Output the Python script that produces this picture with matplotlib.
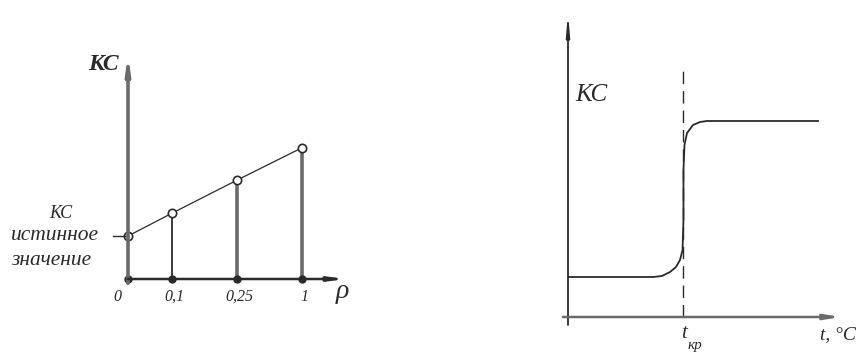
import matplotlib.pyplot as plt

plt.rcParams['font.family'] = ['Liberation Serif', 'DejaVu Serif']

# левый график: КС в зависимости от доли примеси
rho_labels = ['0', '0,1', '0,25', '1']
kc_values = [1.0, 1.53, 2.3, 3.05]
rho_pos = [0, 1.0, 2.48, 3.95]   # где стоят метки на оси (шкала не линейная)

# правый график: КС в зависимости от температуры
t_curve = [0, 73.9, 81.7, 88.7, 93.9, 97.4, 99.6, 100.4, 100.4,
           101.3, 103.5, 108.7, 114.8, 120.9, 217.4]
kc_curve = [1.0, 1.0, 1.025, 1.125, 1.25, 1.425, 1.675, 2.425, 3.675,
            4.3, 4.6, 4.8, 4.875, 4.9, 4.9]
t_kr = 100

W, H = 863, 352
fig = plt.figure(figsize=(W / 100, H / 100), dpi=100)


def px_axes(x0, y0, x1, y1):
    ax = fig.add_axes([x0 / W, 1 - y1 / H, (x1 - x0) / W, (y1 - y0) / H])
    ax.set_axis_off()
    return ax


gray = '#6a6a6a'
dark = '#2a2a2a'

# ---------- левый ----------
ax1 = px_axes(128, 65, 345, 279)
ax1.set_xlim(0, 217 / 44)
ax1.set_ylim(0, 214 / 43)

# оси
ax1.annotate('', xy=(0, 5.25), xytext=(0, -0.1),
             arrowprops=dict(arrowstyle='-|>,head_length=0.9,head_width=0.12',
                             lw=2.6, color=gray, shrinkA=0, shrinkB=0),
             annotation_clip=False)
ax1.annotate('', xy=(4.95, 0), xytext=(0, 0),
             arrowprops=dict(arrowstyle='-|>,head_length=0.9,head_width=0.12',
                             lw=1.8, color=dark, shrinkA=0, shrinkB=0),
             annotation_clip=False)

# вертикальные отрезки
for i, (p, v) in enumerate(zip(rho_pos[1:], kc_values[1:])):
    if i == 0:
        ax1.plot([p, p], [0, v], color=dark, lw=1.3)
    else:
        ax1.plot([p, p], [0, v], color=gray, lw=2.6)

ax1.plot(rho_pos, kc_values, color=dark, lw=0.9)
ax1.plot(rho_pos, [0] * len(rho_pos), 'o', ms=5, color=dark, clip_on=False)
ax1.plot(rho_pos, kc_values, 'o', ms=6, mfc='white', mec=dark, mew=1.2,
         clip_on=False)

for p, lab in zip(rho_pos, rho_labels):
    ax1.text(p + (-0.25 if lab == '0' else 0.05), -0.42, lab, ha='center',
             va='center', fontsize=11.5, style='italic', color=dark)

ax1.text(4.72, -0.3, 'ρ', fontsize=20, style='italic', ha='left',
         va='center', color=dark, clip_on=False)
ax1.text(-0.22, 5.0, 'КС', fontsize=17, style='italic', weight='bold',
         ha='right', va='center', color=dark)

# подпись истинного значения
ax1.text(-1.53, 1.52, 'КС', fontsize=13, style='italic', ha='center',
         va='center', color=dark)
ax1.text(-1.65, 1.0, 'истинное', fontsize=15.5, style='italic', ha='center',
         va='center', color=dark)
ax1.text(-1.75, 0.43, 'значение', fontsize=15.5, style='italic', ha='center',
         va='center', color=dark)
ax1.plot([-0.35, 0], [1.0, 1.0], color=dark, lw=1.0, clip_on=False)

# ---------- правый ----------
ax2 = px_axes(568, 12, 848, 317)
ax2.set_xlim(0, 280 / 1.15)
ax2.set_ylim(0, 305 / 40)

ax2.annotate('', xy=(0, 7.62), xytext=(0, -0.2),
             arrowprops=dict(arrowstyle='-|>,head_length=1.2,head_width=0.1',
                             lw=1.3, color=dark, shrinkA=0, shrinkB=0),
             annotation_clip=False)
ax2.annotate('', xy=(237, 0), xytext=(-4.5, 0),
             arrowprops=dict(arrowstyle='-|>,head_length=0.9,head_width=0.15',
                             lw=1.8, color=gray, shrinkA=0, shrinkB=0),
             annotation_clip=False)

ax2.plot([t_kr, t_kr], [0, 6.2], color=dark, lw=1.0, dashes=(9, 5))
ax2.plot(t_curve, kc_curve, color=dark, lw=1.3)

ax2.text(6, 5.55, 'КС', fontsize=18, style='italic', ha='left', va='center',
         color=dark)
ax2.text(t_kr + 1, -0.42, 't', fontsize=15, style='italic', ha='center',
         va='center', color=dark)
ax2.text(t_kr + 10, -0.72, 'кр', fontsize=11, style='italic', ha='center',
         va='center', color=dark)
ax2.text(219, -0.45, 't, °C', fontsize=14, style='italic', ha='left',
         va='center', color=dark, clip_on=False)

fig.savefig('out.png', dpi=100, facecolor='white')
